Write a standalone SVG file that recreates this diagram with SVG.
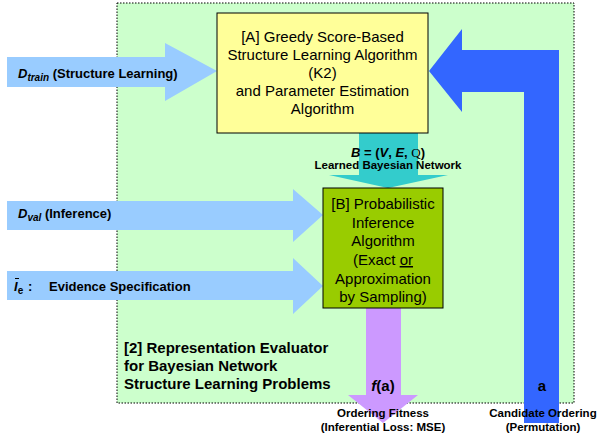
<svg xmlns="http://www.w3.org/2000/svg" width="597" height="443" viewBox="0 0 597 443">
<style>
.t{font-family:"Liberation Sans",Arial,sans-serif;fill:#000}
.box{font-size:15px}
.lb{font-size:13px;font-weight:bold}
.sm{font-size:11.5px;font-weight:bold}
.big{font-size:15px;font-weight:bold}
</style>
<rect width="597" height="443" fill="#fff"/>
<g id="evaluator">
<rect x="117" y="3" width="457" height="400" fill="#CCFFCC" stroke="#000" stroke-width="1" stroke-dasharray="1.5,1.5"/>
<text class="t big" x="124" y="353">[2] Representation Evaluator</text>
<text class="t big" x="124" y="371">for Bayesian Network</text>
<text class="t big" x="124" y="389">Structure Learning Problems</text>
</g>
<g id="connectors">
<path id="dtrain" d="M7,57 L165,57 L165,43 L217,71 L165,101 L165,87 L7,87 Z" fill="#99CCFF"/>
<path id="dval" d="M7,201 L293,201 L293,189 L323,215 L293,242 L293,230 L7,230 Z" fill="#99CCFF"/>
<path id="ie" d="M7,271 L293,271 L293,258 L323,286 L293,314 L293,300 L7,300 Z" fill="#99CCFF"/>
<path id="bn" d="M359,133 L418,133 L418,175 L448,175 L388,188 L329,175 L359,175 Z" fill="#33CCCC"/>
<path id="fit" d="M366,308 L401,308 L401,395 L418,395 L383,423 L348,395 L366,395 Z" fill="#CC99FF"/>
<path id="order" d="M429,71 L462,29 L462,50 L559,50 L559,423 L524,423 L524,92 L462,92 L462,112 Z" fill="#3366FF"/>
<text class="t lb" x="18" y="78"><tspan font-style="italic">D</tspan><tspan font-style="italic" font-size="10" dy="3">train</tspan><tspan dy="-3"> (Structure Learning)</tspan></text>
<text class="t lb" x="18" y="218"><tspan font-style="italic">D</tspan><tspan font-style="italic" font-size="10" dy="3">val</tspan><tspan dy="-3"> (Inference)</tspan></text>
<text class="t lb" x="14" y="291"><tspan font-style="italic">I</tspan><tspan font-size="10" dy="3">e</tspan><tspan dy="-3" x="28">:</tspan><tspan x="49">Evidence Specification</tspan></text>
<path d="M15,278.5 L19,278.5" stroke="#000" stroke-width="1"/>
<text class="t" x="388" y="157" text-anchor="middle" font-size="13" font-weight="bold"><tspan font-style="italic">B</tspan> = (<tspan font-style="italic">V</tspan>, <tspan font-style="italic">E</tspan>, <tspan font-family="'Liberation Serif',serif" font-weight="normal">Q</tspan>)</text>
<text class="t sm" x="388" y="169" text-anchor="middle">Learned Bayesian Network</text>
<text class="t big" x="383" y="391" text-anchor="middle"><tspan font-style="italic">f</tspan>(a)</text>
<text class="t big" x="542" y="391" text-anchor="middle">a</text>
<text class="t sm" x="383" y="417" text-anchor="middle">Ordering Fitness</text>
<text class="t sm" x="383" y="431" text-anchor="middle">(Inferential Loss: MSE)</text>
<text class="t sm" x="543" y="417" text-anchor="middle">Candidate Ordering</text>
<text class="t sm" x="543" y="431" text-anchor="middle">(Permutation)</text>
</g>
<g id="nodeA">
<rect x="217" y="13" width="211" height="120" fill="#FFFF99" stroke="#000" stroke-width="1"/>
<text class="t box" text-anchor="middle" x="322.5" y="42">[A] Greedy Score-Based</text>
<text class="t box" text-anchor="middle" x="322.5" y="60">Structure Learning Algorithm</text>
<text class="t box" text-anchor="middle" x="322.5" y="78">(K2)</text>
<text class="t box" text-anchor="middle" x="322.5" y="96">and Parameter Estimation</text>
<text class="t box" text-anchor="middle" x="322.5" y="114">Algorithm</text>
</g>
<g id="nodeB">
<rect x="323" y="188" width="120" height="120" fill="#99CC00" stroke="#000" stroke-width="1"/>
<text class="t box" text-anchor="middle" x="383" y="209">[B] Probabilistic</text>
<text class="t box" text-anchor="middle" x="383" y="228">Inference</text>
<text class="t box" text-anchor="middle" x="383" y="246">Algorithm</text>
<text class="t box" text-anchor="middle" x="383" y="265">(Exact <tspan text-decoration="underline">or</tspan></text>
<text class="t box" text-anchor="middle" x="383" y="284">Approximation</text>
<text class="t box" text-anchor="middle" x="383" y="302">by Sampling)</text>
</g>
</svg>
